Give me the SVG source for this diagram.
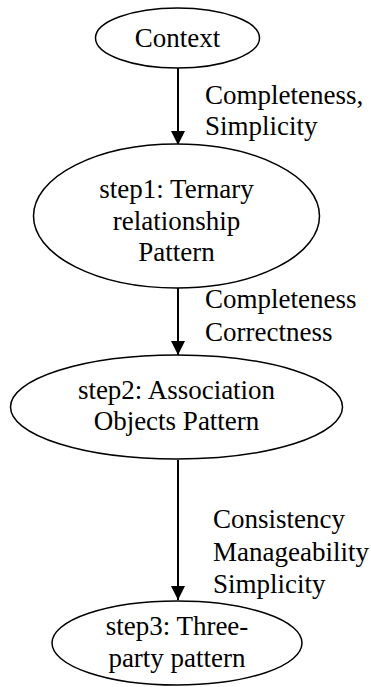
<svg xmlns="http://www.w3.org/2000/svg" width="371" height="687" viewBox="0 0 371 687">
<style>
.n{fill:#fff;stroke:#000;stroke-width:1.5}
.t{font-family:"Liberation Serif","Times New Roman",serif;font-size:27px;fill:#000}
.c{text-anchor:middle}
.e{stroke:#000;stroke-width:2;fill:none}
</style>
<defs>
<marker id="ah" markerWidth="14" markerHeight="14" refX="12" refY="6" orient="auto" markerUnits="userSpaceOnUse" viewBox="0 0 12 12">
<path d="M0,0 L12,6 L0,12 z" fill="#000"/>
</marker>
</defs>
<g id="connectors">
<line class="e" x1="178" y1="68" x2="178" y2="145" marker-end="url(#ah)"/>
<line class="e" x1="178" y1="288" x2="178" y2="355" marker-end="url(#ah)"/>
<line class="e" x1="178" y1="460" x2="178" y2="600" marker-end="url(#ah)"/>
<text class="t" x="205" y="104">Completeness,</text>
<text class="t" x="205" y="135">Simplicity</text>
<text class="t" x="205" y="308">Completeness</text>
<text class="t" x="205" y="341">Correctness</text>
<text class="t" x="213" y="528">Consistency</text>
<text class="t" x="213" y="561">Manageability</text>
<text class="t" x="213" y="593">Simplicity</text>
</g>
<g id="context">
<ellipse class="n" cx="177.5" cy="38" rx="82" ry="30"/>
<text class="t c" x="177.5" y="47">Context</text>
</g>
<g id="step1">
<ellipse class="n" cx="176.5" cy="216" rx="143" ry="72"/>
<text class="t c" x="176.5" y="198">step1: Ternary</text>
<text class="t c" x="176.5" y="230">relationship</text>
<text class="t c" x="176.5" y="261">Pattern</text>
</g>
<g id="step2">
<ellipse class="n" cx="176.5" cy="407" rx="166" ry="52"/>
<text class="t c" x="176.5" y="399">step2: Association</text>
<text class="t c" x="176.5" y="430">Objects Pattern</text>
</g>
<g id="step3">
<ellipse class="n" cx="177" cy="643" rx="125" ry="42"/>
<text class="t c" x="177" y="635">step3: Three-</text>
<text class="t c" x="177" y="667">party pattern</text>
</g>
</svg>
